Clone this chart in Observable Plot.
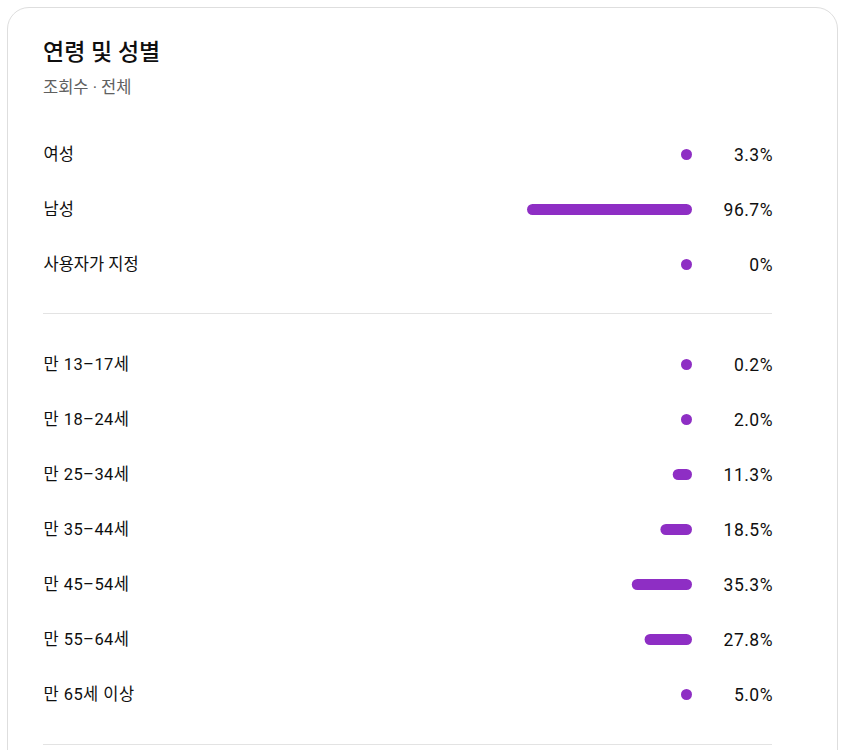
<!DOCTYPE html>
<html>
<head>
<meta charset="utf-8">
<script src="https://cdn.jsdelivr.net/npm/d3@7"></script>
<script src="https://cdn.jsdelivr.net/npm/@observablehq/plot@0.6"></script>
<style>
  html, body { margin: 0; padding: 0; background: #fff; width: 845px; height: 750px; overflow: hidden; }
  body { font-family: Roboto, "Noto Sans CJK KR", sans-serif; color: #0f0f0f; position: relative; }
  #card { position: absolute; left: 7px; top: 7px; width: 829px; height: 900px; border: 1px solid #dedede; border-radius: 22px; box-sizing: content-box; }
  #title { position: absolute; left: 43px; top: 38px; font-size: 23px; font-weight: 500; line-height: 30px; color: #0f0f0f; }
  #subtitle { position: absolute; left: 43px; top: 77px; font-size: 16.5px; line-height: 22px; color: #606060; }
  .chart { position: absolute; left: 0; }
  .divider { position: absolute; left: 43px; width: 729px; height: 0; border-top: 1px solid #e3e3e3; }
  #age svg g[aria-label="text"][text-anchor="start"] text { letter-spacing: 0.45px; }
  svg g[aria-label="text"][text-anchor="end"] text { letter-spacing: 0.5px; }
</style>
</head>
<body>
<div id="card"></div>
<div id="title">연령 및 성별</div>
<div id="subtitle">조회수 · 전체</div>
<div id="gender" class="chart" style="top:127px"></div>
<div class="divider" style="top:313px"></div>
<div id="age" class="chart" style="top:315px"></div>
<div class="divider" style="top:744px"></div>
<script>
const genderLabels = ["여성", "남성", "사용자가 지정"];
const genderValues = [3.3, 96.7, 0];
const ageLabels = ["만 13–17세", "만 18–24세", "만 25–34세", "만 35–44세", "만 45–54세", "만 55–64세", "만 65세 이상"];
const ageValues = [0.2, 2.0, 11.3, 18.5, 35.3, 27.8, 5.0];

const PURPLE = "#8e2ec4";
const pxPerPct = 1.706;
const capPx = 11;
const minPct = capPx / pxPerPct;
const fmt = v => v === 0 ? "0%" : v.toFixed(1) + "%";

function rowsChart(labels, values, height, rangeTop) {
  const data = labels.map((label, i) => ({label, value: values[i]}));
  const rowH = 55;
  return Plot.plot({
    width: 845,
    height,
    marginLeft: 43,
    marginRight: 73,
    marginTop: 0,
    marginBottom: 0,
    style: {fontFamily: 'Roboto, "Noto Sans CJK KR", sans-serif', fontSize: "16.5px", color: "#0f0f0f", background: "transparent", overflow: "visible"},
    x: {type: "linear", domain: [0, 100], range: [692, 692 - 100 * pxPerPct], axis: null},
    y: {type: "band", domain: labels, range: [rangeTop, rangeTop + rowH * labels.length], padding: 0, axis: null},
    marks: [
      Plot.barX(data, {
        y: "label",
        x1: 0,
        x2: d => Math.max(d.value, minPct),
        fill: PURPLE,
        rx: capPx / 2,
        insetTop: (rowH - capPx) / 2,
        insetBottom: (rowH - capPx) / 2
      }),
      Plot.text(data, {
        y: "label",
        text: "label",
        frameAnchor: "left",
        textAnchor: "start",
        fontSize: 16.5,
        fill: "#0f0f0f"
      }),
      Plot.text(data, {
        y: "label",
        text: d => fmt(d.value),
        frameAnchor: "right",
        textAnchor: "end",
        dx: 0.5,
        fontSize: 17.5,
        fill: "#0f0f0f"
      })
    ]
  });
}

document.getElementById("gender").appendChild(rowsChart(genderLabels, genderValues, 187, -0.5));
document.getElementById("age").appendChild(rowsChart(ageLabels, ageValues, 430, 21.5));
</script>
</body>
</html>
